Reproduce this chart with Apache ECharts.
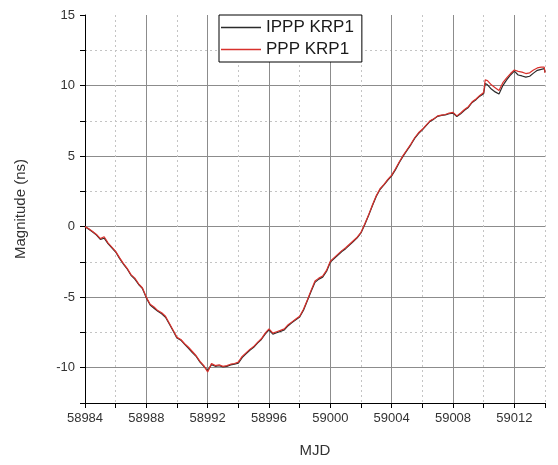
<!DOCTYPE html>
<html>
<head>
<meta charset="utf-8">
<title>Clock offset KRP1</title>
<script src="https://cdn.jsdelivr.net/npm/echarts@6/dist/echarts.min.js"></script>
<style>
  html, body { margin: 0; padding: 0; background: #ffffff; }
  #chart { width: 558px; height: 465px; }
</style>
</head>
<body>
<div id="chart"></div>
<script>
// Epochs (MJD), sampled every 6 hours
const mjd = [
  58984.00, 58984.25, 58984.50, 58984.75, 58985.00, 58985.25, 58985.50, 58985.75,
  58986.00, 58986.25, 58986.50, 58986.75, 58987.00, 58987.25, 58987.50, 58987.75,
  58988.00, 58988.25, 58988.50, 58988.75, 58989.00, 58989.25, 58989.50, 58989.75,
  58990.00, 58990.25, 58990.50, 58990.75, 58991.00, 58991.25, 58991.50, 58991.75,
  58992.00, 58992.25, 58992.50, 58992.75, 58993.00, 58993.25, 58993.50, 58993.75,
  58994.00, 58994.25, 58994.50, 58994.75, 58995.00, 58995.25, 58995.50, 58995.75,
  58996.00, 58996.25, 58996.50, 58996.75, 58997.00, 58997.25, 58997.50, 58997.75,
  58998.00, 58998.25, 58998.50, 58998.75, 58999.00, 58999.25, 58999.50, 58999.75,
  59000.00, 59000.25, 59000.50, 59000.75, 59001.00, 59001.25, 59001.50, 59001.75,
  59002.00, 59002.25, 59002.50, 59002.75, 59003.00, 59003.25, 59003.50, 59003.75,
  59004.00, 59004.25, 59004.50, 59004.75, 59005.00, 59005.25, 59005.50, 59005.75,
  59006.00, 59006.25, 59006.50, 59006.75, 59007.00, 59007.25, 59007.50, 59007.75,
  59008.00, 59008.25, 59008.50, 59008.75, 59009.00, 59009.25, 59009.50, 59009.75,
  59010.00, 59010.10, 59010.25, 59010.50, 59010.75, 59011.00, 59011.25, 59011.50,
  59011.75, 59012.00, 59012.25, 59012.50, 59012.75, 59013.00, 59013.25, 59013.50,
  59013.75, 59013.95, 59014.00
];

// IPPP solution, KRP1 (ns)
const ipppKRP1 = [
   0.00, -0.18, -0.38, -0.60, -0.90, -0.82, -1.20, -1.50,
  -1.80, -2.25, -2.65, -3.00, -3.45, -3.72, -4.10, -4.40,
  -5.05, -5.55, -5.78, -6.00, -6.18, -6.42, -6.90, -7.40,
  -7.90, -8.05, -8.35, -8.62, -8.92, -9.20, -9.60, -9.90,
 -10.20, -9.78, -9.90, -9.86, -9.95, -9.90, -9.80, -9.75,
  -9.68, -9.28, -9.02, -8.76, -8.55, -8.25, -8.00, -7.62,
  -7.32, -7.62, -7.52, -7.42, -7.32, -7.02, -6.80, -6.60,
  -6.40, -5.92, -5.26, -4.58, -3.95, -3.72, -3.58, -3.18,
  -2.52, -2.26, -2.02, -1.76, -1.56, -1.30, -1.05, -0.80,
  -0.45,  0.15,  0.80,  1.50,  2.15,  2.65,  2.96,  3.30,
   3.60,  4.04,  4.55,  5.00,  5.40,  5.80,  6.25,  6.60,
   6.86,  7.16,  7.46,  7.62,  7.82,  7.88,  7.92,  8.00,
   8.05,  7.80,  8.00,  8.25,  8.45,  8.80,  9.00,  9.25,
   9.42, 10.15, 10.05,  9.75,  9.55,  9.40, 10.00, 10.40,
  10.75, 11.02, 10.75, 10.68, 10.60, 10.66, 10.88, 11.08,
  11.15, 11.20, 10.95
];

// PPP solution, KRP1 (ns)
const pppKRP1 = [
   0.00, -0.15, -0.35, -0.55, -0.85, -0.72, -1.15, -1.45,
  -1.75, -2.20, -2.60, -2.95, -3.40, -3.65, -4.05, -4.35,
  -5.00, -5.50, -5.70, -5.95, -6.10, -6.35, -6.85, -7.35,
  -7.85, -8.00, -8.30, -8.55, -8.85, -9.15, -9.55, -9.85,
 -10.30, -9.70, -9.85, -9.80, -9.90, -9.85, -9.75, -9.70,
  -9.60, -9.20, -8.95, -8.70, -8.50, -8.20, -7.95, -7.55,
  -7.25, -7.55, -7.45, -7.35, -7.25, -6.95, -6.75, -6.55,
  -6.35, -5.85, -5.20, -4.50, -3.85, -3.65, -3.50, -3.10,
  -2.45, -2.20, -1.95, -1.70, -1.50, -1.25, -1.00, -0.75,
  -0.40,  0.20,  0.85,  1.55,  2.20,  2.70,  3.00,  3.35,
   3.65,  4.10,  4.60,  5.05,  5.45,  5.85,  6.30,  6.65,
   6.90,  7.20,  7.50,  7.65,  7.85,  7.90,  7.95,  8.05,
   8.10,  7.85,  8.05,  8.30,  8.50,  8.85,  9.05,  9.30,
   9.50, 10.40, 10.35, 10.05,  9.85,  9.65, 10.20, 10.55,
  10.85, 11.10, 11.00, 10.95, 10.85, 10.90, 11.10, 11.25,
  11.30, 11.30, 10.90
];

// Axis extents and tick labels
const xRange = [58984, 59014];
const yRange = [-12.5, 15];
const xTickLabels = ['58984', '58988', '58992', '58996', '59000', '59004', '59008', '59012'];
const yTickLabels = ['-10', '-5', '0', '5', '10', '15'];

const seriesNames = ['IPPP KRP1', 'PPP KRP1'];
const seriesColors = ['#2b2b2b', '#d8312c'];

const FONT = 'Liberation Sans, Arial, sans-serif';
const MAJOR_GRID = { color: '#8c8c8c', width: 1, type: 'solid' };
const MINOR_GRID = { color: '#c4c4c4', width: 1, type: [2, 3] };

const pairs = (ys) => mjd.map((x, i) => [x, ys[i]]);

const chart = echarts.init(document.getElementById('chart'), null, { renderer: 'canvas' });

chart.setOption({
  animation: false,
  backgroundColor: '#ffffff',
  textStyle: { fontFamily: FONT },
  grid: { left: 85, top: 15, right: 13, bottom: 62, containLabel: false },
  legend: {
    data: seriesNames,
    orient: 'vertical',
    left: 219,
    top: 15,
    padding: [3, 8, 3, 2],
    itemGap: 3,
    itemWidth: 40,
    itemHeight: 1.6,
    icon: 'rect',
    backgroundColor: '#ffffff',
    borderColor: '#000000',
    borderWidth: 1,
    borderRadius: 0,
    textStyle: { fontFamily: FONT, fontSize: 17, color: '#1a1a1a', lineHeight: 19 }
  },
  xAxis: [
    {
      // ticks every 2 days with dotted grid; labels on every 4 days
      type: 'value',
      min: xRange[0],
      max: xRange[1],
      interval: 2,
      position: 'bottom',
      name: 'MJD',
      nameLocation: 'middle',
      nameGap: 40,
      nameTextStyle: { fontFamily: FONT, fontSize: 15, color: '#333333' },
      axisLine: { show: true, onZero: false, lineStyle: { color: '#000000', width: 1 } },
      axisTick: { show: true, inside: false, length: 5, lineStyle: { color: '#000000' } },
      axisLabel: {
        fontFamily: FONT, fontSize: 13, color: '#333333', margin: 9,
        formatter: (v) => {
          const s = String(Math.round(v));
          return xTickLabels.includes(s) && Math.abs(v - Math.round(v)) < 1e-6 ? s : '';
        }
      },
      splitLine: { show: true, showMinLine: false, lineStyle: MINOR_GRID }
    },
    {
      // solid grid every 4 days
      type: 'value',
      min: xRange[0],
      max: xRange[1],
      interval: 4,
      position: 'bottom',
      axisLine: { show: false },
      axisTick: { show: false },
      axisLabel: { show: false },
      splitLine: { show: true, showMinLine: false, showMaxLine: false, lineStyle: MAJOR_GRID }
    }
  ],
  yAxis: [
    {
      // ticks every 2.5 ns with dotted grid; labels on every 5 ns
      type: 'value',
      min: yRange[0],
      max: yRange[1],
      interval: 2.5,
      position: 'left',
      name: 'Magnitude (ns)',
      nameLocation: 'middle',
      nameGap: 57,
      nameRotate: 90,
      nameTextStyle: { fontFamily: FONT, fontSize: 15, color: '#333333' },
      axisLine: { show: true, onZero: false, lineStyle: { color: '#000000', width: 1 } },
      axisTick: { show: true, inside: false, length: 5, lineStyle: { color: '#000000' } },
      axisLabel: {
        fontFamily: FONT, fontSize: 13, color: '#333333', margin: 10,
        formatter: (v) => {
          const s = String(v);
          return yTickLabels.includes(s) ? s : '';
        }
      },
      splitLine: { show: true, showMinLine: false, showMaxLine: false, lineStyle: MINOR_GRID }
    },
    {
      // solid grid every 5 ns; inverted so its ticks step down from the 15 ns top edge
      type: 'value',
      inverse: true,
      min: yRange[0],
      max: yRange[1],
      interval: 5,
      position: 'left',
      axisLine: { show: false },
      axisTick: { show: false },
      axisLabel: { show: false },
      splitLine: { show: true, showMinLine: false, showMaxLine: false, lineStyle: MAJOR_GRID }
    }
  ],
  series: seriesNames.map((name, k) => ({
    name,
    type: 'line',
    xAxisIndex: 0,
    yAxisIndex: 0,
    data: pairs(k === 0 ? ipppKRP1 : pppKRP1),
    symbol: 'none',
    showSymbol: false,
    smooth: false,
    lineStyle: { color: seriesColors[k], width: 1.2 },
    itemStyle: { color: seriesColors[k] },
    z: 3 + k
  }))
});
</script>
</body>
</html>
